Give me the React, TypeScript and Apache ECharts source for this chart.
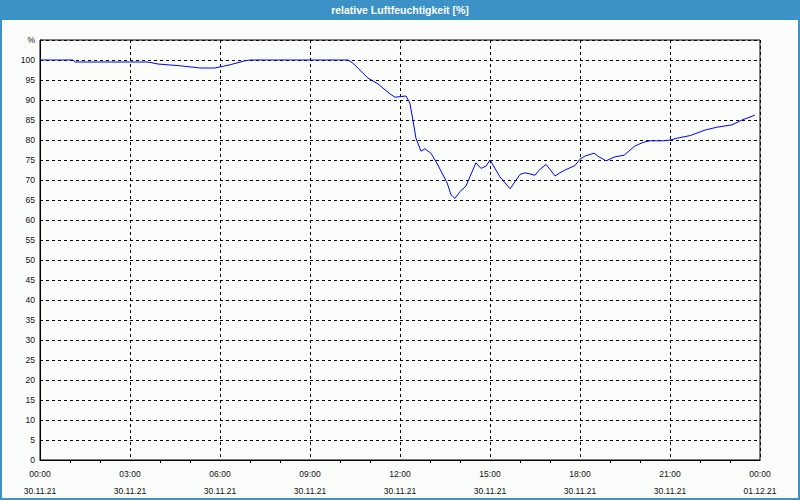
import React, { useEffect, useRef } from "react";
import * as echarts from "echarts";

const TITLE = "relative Luftfeuchtigkeit [%]";
// hours since 30.11.21 00:00
const hours = [
  0, 1.1, 1.17, 3.6, 3.93, 4.6, 5.1, 5.33, 5.83, 6.33, 6.83, 7.0, 10.27, 10.43, 10.93, 11.27,
  11.67, 11.83, 12.2, 12.33, 12.43, 12.53, 12.7, 12.83, 13.03, 13.23, 13.57, 13.7, 13.83, 14.0,
  14.2, 14.33, 14.53, 14.7, 14.87, 15.0, 15.33, 15.67, 16.0, 16.17, 16.5, 16.67, 16.87, 17.17,
  17.33, 17.5, 17.83, 18.0, 18.17, 18.47, 18.63, 18.87, 19.17, 19.47, 19.83, 20.1, 20.33,
  20.77, 21.0, 21.33, 21.67, 22.17, 22.57, 23.07, 23.4, 23.83,
];
const humidity = [
  100, 100, 99.5, 99.5, 99.0, 98.6, 98.2, 98.0, 98.0, 98.8, 99.8, 100, 100, 99.2, 95.5, 94.0,
  91.5, 90.7, 91.0, 89.2, 85, 80.5, 77.2, 77.8, 76.7, 74.2, 69.3, 66.3, 65.4, 67.1,
  68.5, 70.8, 74.3, 72.9, 73.5, 75, 70.8, 67.8, 71.4, 71.8, 71.2, 72.7, 73.9, 71.0,
  71.8, 72.5, 73.6, 75.2, 76.0, 76.7, 75.8, 74.8, 75.8, 76.2, 78.5, 79.4, 79.8,
  79.8, 80, 80.6, 81.1, 82.5, 83.2, 83.8, 85, 86.2,
];
const xTickTimes = ["00:00", "03:00", "06:00", "09:00", "12:00", "15:00", "18:00", "21:00", "00:00"];
const xTickDates = ["30.11.21", "30.11.21", "30.11.21", "30.11.21", "30.11.21", "30.11.21", "30.11.21", "30.11.21", "01.12.21"];
const yUnit = "%";

const FONT = "Liberation Sans";

export default function App() {
  const ref = useRef<HTMLDivElement>(null);
  useEffect(() => {
    document.body.style.margin = "0";
    const chart = echarts.init(ref.current!, undefined, { renderer: "svg" });
    const data = hours.map((h, i) => [h, humidity[i]]);
    chart.setOption({
      animation: false,
      backgroundColor: "#fafcfa",
      textStyle: { fontFamily: FONT },
      graphic: [
        { type: "rect", shape: { x: 0, y: 0, width: 800, height: 20 }, style: { fill: "#3c91c7" }, z: 10 },
        { type: "rect", shape: { x: 1, y: 1, width: 798, height: 498 }, style: { fill: "none", stroke: "#3c91c7", lineWidth: 2 }, z: 10 },
        {
          type: "text", x: 400, y: 10, z: 11,
          style: { text: TITLE, fill: "#ffffff", font: `bold 10.5px "${FONT}"`, textAlign: "center", textVerticalAlign: "middle" },
        },
      ],
      grid: { left: 40, right: 40, top: 40, bottom: 40, show: true, borderColor: "#000", borderWidth: 1 },
      xAxis: {
        type: "value", min: 0, max: 24, interval: 3,
        axisLine: { lineStyle: { color: "#000", width: 1 } },
        axisTick: { show: false },
        minorTick: { show: true, splitNumber: 3, length: 3, lineStyle: { color: "#000" } },
        axisLabel: {
          color: "#111", fontSize: 8.5, fontFamily: FONT, lineHeight: 17, margin: 5,
          formatter: (v: number) => {
            const i = Math.round(v / 3);
            return `${xTickTimes[i]}\n${xTickDates[i]}`;
          },
        },
        splitLine: { show: true, lineStyle: { color: "#000", type: [3, 3], width: 1 } },
      },
      yAxis: {
        type: "value", min: 0, max: 105, interval: 5,
        axisLine: { show: true, lineStyle: { color: "#000", width: 1 } },
        axisTick: { show: false },
        axisLabel: {
          color: "#111", fontSize: 8.5, fontFamily: FONT, margin: 5,
          formatter: (v: number) => (v === 105 ? yUnit : String(v)),
        },
        splitLine: { show: true, lineStyle: { color: "#000", type: [3, 3], width: 1 } },
      },
      series: [
        {
          type: "line", data, showSymbol: false, symbol: "none",
          lineStyle: { color: "#0000ff", width: 1 }, z: 5,
        },
      ],
    });
    return () => chart.dispose();
  }, []);
  return <div ref={ref} style={{ width: 800, height: 500 }} />;
}
